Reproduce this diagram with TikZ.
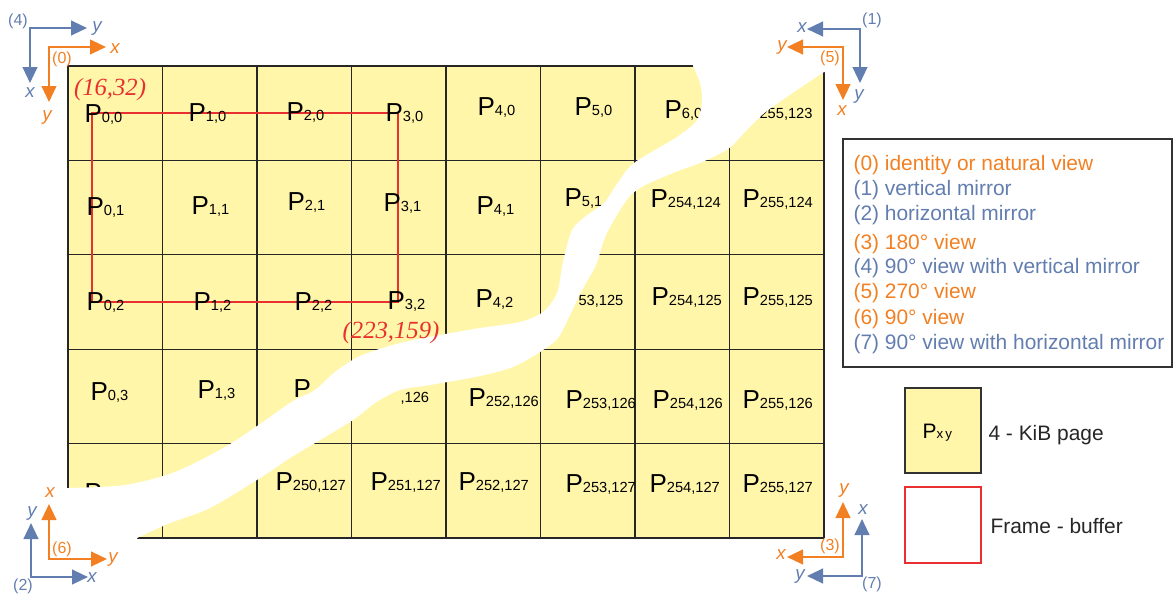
\documentclass[tikz,border=0pt]{standalone}
\usepackage{fontspec}
\setmainfont{Liberation Sans}
\newfontfamily\tmsfont{Liberation Serif}
\usetikzlibrary{arrows.meta}
\definecolor{axorange}{RGB}{242,128,34}
\definecolor{axblue}{RGB}{98,125,175}
\definecolor{pagefill}{RGB}{255,246,170}
\definecolor{fbred}{RGB}{232,48,48}
\newcommand{\subsz}{\fontsize{11}{12}\selectfont}
\newcommand{\pg}[2]{P{\subsz#1,#2}}

\begin{document}
\begin{tikzpicture}[x=.75pt,y=-.75pt,line width=.8pt,font=\fontsize{19.5}{20}\selectfont,
  pglab/.style={anchor=base west,inner sep=0pt},
  axo/.style={draw=axorange,line width=1.7pt,{Triangle[length=12pt,width=11pt]}-{Triangle[length=12pt,width=11pt]}},
  axb/.style={axo,draw=axblue},
  axlb/.style={inner sep=0pt,font=\fontsize{14}{14}\selectfont\itshape},
  numb/.style={inner sep=0pt,font=\fontsize{12}{12}\selectfont},
  lg/.style={anchor=base west,inner sep=0pt,font=\fontsize{15.7}{18}\selectfont}]
\useasboundingbox (0,0) rectangle (1175,594);
% pages
\fill[pagefill] (68,66) rectangle (824,538);
\foreach \i in {0,...,8} \draw[black!85] ({68+94.5*\i},66) -- ({68+94.5*\i},538);
\foreach \j in {0,...,5} \draw[black!85] (68,{66+94.4*\j}) -- (824,{66+94.4*\j});
\draw[fbred] (92,113) rectangle (398,302);
\node[pglab] (p00) at (84,122) {\pg{0}{0}};\node[pglab] (p10) at (188,121) {\pg{1}{0}};
\node[pglab] (p20) at (286,120) {\pg{2}{0}};\node[pglab] (p30) at (385,121) {\pg{3}{0}};
\node[pglab] (p40) at (477,115) {\pg{4}{0}};\node[pglab] (p50) at (574,115) {\pg{5}{0}};
\node[pglab] (p60) at (664,118) {\pg{6}{0}};\node[pglab,font=\subsz] (p70) at (759,118) {255,123};
\node[pglab] (p01) at (86,215) {\pg{0}{1}};\node[pglab] (p11) at (191,214) {\pg{1}{1}};
\node[pglab] (p21) at (287,210) {\pg{2}{1}};\node[pglab] (p31) at (383,211) {\pg{3}{1}};
\node[pglab] (p41) at (476,214) {\pg{4}{1}};\node[pglab] (p51) at (564,206) {\pg{5}{1}};
\node[pglab] (p61) at (650,207) {\pg{254}{124}};\node[pglab] (p71) at (742,207) {\pg{255}{124}};
\node[pglab] (p02) at (86,310) {\pg{0}{2}};\node[pglab] (p12) at (193,310) {\pg{1}{2}};
\node[pglab] (p22) at (294,310) {\pg{2}{2}};\node[pglab] (p32) at (387,309) {\pg{3}{2}};
\node[pglab] (p42) at (475,307) {\pg{4}{2}};\node[pglab,font=\subsz] (p52) at (578,305) {53,125};
\node[pglab] (p62) at (651,305) {\pg{254}{125}};\node[pglab] (p72) at (742,305) {\pg{255}{125}};
\node[pglab] (p03) at (90,400) {\pg{0}{3}};\node[pglab] (p13) at (197,398) {\pg{1}{3}};
\node[pglab] (p23) at (293,397) {P};\node[pglab,font=\subsz] (p33) at (400,402) {,126};
\node[pglab] (p43) at (468,406) {\pg{252}{126}};\node[pglab] (p53) at (565,408) {\pg{253}{126}};
\node[pglab] (p63) at (652,408) {\pg{254}{126}};\node[pglab] (p73) at (742,408) {\pg{255}{126}};
\node[pglab] (p04) at (84,501) {P};\node[pglab] (p24) at (275,490) {\pg{250}{127}};
\node[pglab] (p34) at (370,490) {\pg{251}{127}};\node[pglab] (p44) at (458,490) {\pg{252}{127}};
\node[pglab] (p54) at (565,492) {\pg{253}{127}};\node[pglab] (p64) at (649,492) {\pg{254}{127}};
\node[pglab] (p74) at (742,492) {\pg{255}{127}};
% torn part
\fill[white] (64,488) -- plot[smooth] coordinates {(68,488) (125,485) (175,472) (225,447) (260,424) (293,401) (315,390) (335,372) (360,356) (400,343) (440,335) (480,328) (520,322) (543,312) (557,293) (563,262) (572,230) (586,216) (604,203) (617,184) (634,163) (677,137) (697,120) (702,100) (700,83) (693,66)}
  -- (693,62) -- (828,62) -- (828,72) -- plot[smooth] coordinates {(824,72) (800,88) (778,103) (762,115) (745,132) (728,149) (700,163) (673,173) (633,193) (607,233) (596,265) (582,290) (570,315) (558,338) (540,352) (513,367) (480,376) (430,385) (400,390) (375,403) (353,420) (310,446) (290,458) (260,478) (210,508) (170,523) (137,538)}
  -- (137,542) -- (64,542) -- cycle;
\node[anchor=base,text=fbred,font=\tmsfont\fontsize{18.5}{19}\selectfont\itshape] (tl) at (110,95) {(16,32)};
\node[anchor=base,text=fbred,font=\tmsfont\fontsize{18.5}{19}\selectfont\itshape] (br) at (391,338) {(223,159)};
% axes
\coordinate (o4) at (30,28);\coordinate (o4y) at (87,28);\coordinate (o4x) at (30,83);
\draw[axb] (o4y) -- (o4) -- (o4x);
\node[axlb,text=axblue] (l4y) at (97,29) {y};\node[axlb,text=axblue] (l4x) at (30,93) {x};\node[numb,text=axblue] (n4) at (18,21) {(4)};
\coordinate (o0) at (49,47);\coordinate (o0x) at (106,47);\coordinate (o0y) at (49,102);
\draw[axo] (o0x) -- (o0) -- (o0y);
\node[axlb,text=axorange] (l0x) at (115,49) {x};\node[axlb,text=axorange] (l0y) at (47,117) {y};\node[numb,text=axorange] (n0) at (62,59) {(0)};
\coordinate (o1) at (860,29);\coordinate (o1x) at (807,29);\coordinate (o1y) at (860,83);
\draw[axb] (o1x) -- (o1) -- (o1y);
\node[axlb,text=axblue] (l1x) at (802,28) {x};\node[axlb,text=axblue] (l1y) at (859,96) {y};\node[numb,text=axblue] (n1) at (872,20) {(1)};
\coordinate (o5) at (843,47);\coordinate (o5y) at (787,47);\coordinate (o5x) at (843,100);
\draw[axo] (o5y) -- (o5) -- (o5x);
\node[axlb,text=axorange] (l5y) at (782,47) {y};\node[axlb,text=axorange] (l5x) at (842,111) {x};\node[numb,text=axorange] (n5) at (830,58) {(5)};
\coordinate (o2) at (31,577);\coordinate (o2y) at (31,523);\coordinate (o2x) at (88,577);
\draw[axb] (o2y) -- (o2) -- (o2x);
\node[axlb,text=axblue] (l2y) at (32,513) {y};\node[axlb,text=axblue] (l2x) at (92,578) {x};\node[numb,text=axblue] (n2) at (23,586) {(2)};
\coordinate (o6) at (49,559);\coordinate (o6x) at (49,504);\coordinate (o6y) at (107,559);
\draw[axo] (o6x) -- (o6) -- (o6y);
\node[axlb,text=axorange] (l6x) at (50,493) {x};\node[axlb,text=axorange] (l6y) at (113,559) {y};\node[numb,text=axorange] (n6) at (62,549) {(6)};
\coordinate (o3) at (843,557);\coordinate (o3y) at (843,502);\coordinate (o3x) at (787,557);
\draw[axo] (o3y) -- (o3) -- (o3x);
\node[axlb,text=axorange] (l3y) at (844,490) {y};\node[axlb,text=axorange] (l3x) at (781,555) {x};\node[numb,text=axorange] (n3) at (830,546) {(3)};
\coordinate (o7) at (862,576);\coordinate (o7x) at (862,519);\coordinate (o7y) at (807,576);
\draw[axb] (o7x) -- (o7) -- (o7y);
\node[axlb,text=axblue] (l7x) at (863,510) {x};\node[axlb,text=axblue] (l7y) at (800,576) {y};\node[numb,text=axblue] (n7) at (872,584) {(7)};
% legend
\draw[line width=1.5pt,black!80] (843,139) rectangle (1172,367);
\node[lg,text=axorange] (v0) at (853,170) {(0) identity or natural view};
\node[lg,text=axblue] (v1) at (853,195) {(1) vertical mirror};
\node[lg,text=axblue] (v2) at (853,220) {(2) horizontal mirror};
\node[lg,text=axorange] (v3) at (853,249) {(3) 180° view};
\node[lg,text=axblue] (v4) at (853,273) {(4) 90° view with vertical mirror};
\node[lg,text=axorange] (v5) at (853,298) {(5) 270° view};
\node[lg,text=axorange] (v6) at (853,324) {(6) 90° view};
\node[lg,text=axblue] (v7) at (853,349) {(7) 90° view with horizontal mirror};
\draw[black!80,fill=pagefill] (905,388) rectangle (981,473);
\node[pglab,font=\fontsize{15.7}{16}\selectfont] (pxy) at (922,438) {P{\fontsize{10}{10}\selectfont x\,y}};
\node[lg,text=black!85] (kpage) at (988,440) {4 - KiB page};
\draw[fbred] (905,487) rectangle (981,563);
\node[lg,text=black!85] (fbuf) at (990,533) {Frame - buffer};
\end{tikzpicture}
\end{document}
